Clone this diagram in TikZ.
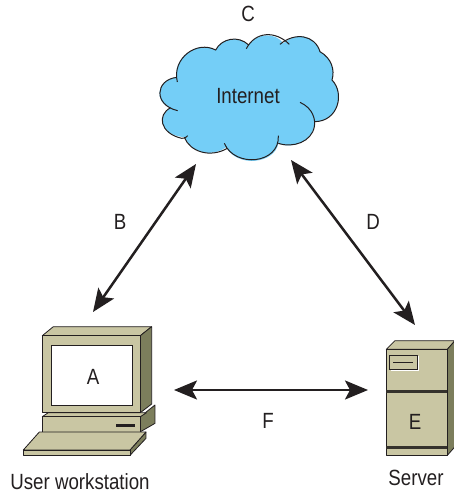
\documentclass[tikz,border=0pt]{standalone}
\usepackage{fontspec}
\setmainfont[FakeStretch=0.85]{Liberation Sans}
\usetikzlibrary{arrows.meta}
\definecolor{beige}{HTML}{C9C6A3}
\definecolor{shade}{HTML}{7C7E5C}
\definecolor{sky}{HTML}{74CEF7}
\definecolor{ink}{HTML}{231F20}
\tikzset{
  lbl/.style={text=ink,font=\fontsize{22}{24}\selectfont,inner sep=0pt},
  link/.style={ink,line width=2.5pt,{Stealth[length=23pt,width=19pt,inset=5pt]}-{Stealth[length=23pt,width=19pt,inset=5pt]}},
  box/.style={draw=ink,line width=0.8pt,line join=round,fill=beige},
  dark/.style={draw=ink,line width=0.8pt,line join=round,fill=shade},
  cloudline/.style={draw=ink,line width=1pt}
}
\begin{document}
\begin{tikzpicture}[x=1pt,y=-1pt]
\useasboundingbox (0,0) rectangle (454,493);
\fill[white] (0,0) rectangle (454,493);
% cloud
\begin{scope}[shift={(150,20)},scale=1/3]
\fill[sky] (80,172) .. controls (70,115) and (140,60) .. (197,90)
  .. controls (215,55) and (265,45) .. (296,75)
  .. controls (320,40) and (375,35) .. (400,70)
  .. controls (440,35) and (495,45) .. (510,95)
  .. controls (545,115) and (555,150) .. (546,180)
  .. controls (585,220) and (565,305) .. (493,305)
  .. controls (495,360) and (430,390) .. (385,370)
  .. controls (375,430) and (265,445) .. (228,382)
  .. controls (180,415) and (120,395) .. (105,352)
  .. controls (30,345) and (20,290) .. (62,263)
  .. controls (10,245) and (20,180) .. (80,172) -- cycle;
\draw[cloudline] (82,186) .. controls (65,115) and (140,60) .. (197,90)
  .. controls (215,55) and (265,45) .. (296,75);
\draw[cloudline] (289,86) .. controls (315,35) and (375,30) .. (418,73);
\draw[cloudline] (390,73) .. controls (435,35) and (495,45) .. (510,95)
  .. controls (545,115) and (555,150) .. (546,180)
  .. controls (585,220) and (565,305) .. (493,305);
\draw[cloudline] (450,247) .. controls (490,265) and (497,300) .. (493,320)
  .. controls (485,365) and (430,385) .. (385,370);
\draw[cloudline] (385,347) .. controls (390,432) and (255,445) .. (223,370);
\draw[cloudline] (232,385) .. controls (180,415) and (120,395) .. (103,352);
\draw[cloudline] (113,347) .. controls (108,353) and (104,356) .. (95,355)
  .. controls (30,340) and (20,285) .. (62,263);
\draw[cloudline] (83,272) .. controls (10,255) and (15,180) .. (80,172);
\end{scope}
% workstation
\begin{scope}[shift={(0,310)},scale=1/3]
\draw[box] (127,77) -- (160,50) -- (455,50) -- (421,77) -- cycle;
\draw[dark] (421,77) -- (455,50) -- (455,282) -- (421,308) -- cycle;
\draw[dark] (421,320) -- (465,285) -- (465,340) -- (420,366) -- cycle;
\draw[box] (127,320) -- (145,308) -- (440,308) -- (421,320) -- cycle;
\draw[box] (127,320) rectangle (421,366);
\draw[box] (127,77) rectangle (421,308);
\draw[draw=ink,line width=0.8pt,fill=white] (153,107) rectangle (397,286);
\fill[ink] (348,342) rectangle (405,350);
\draw[dark] (390,420) -- (438,366) -- (438,385) -- (390,436) -- cycle;
\draw[box] (70,420) -- (118,366) -- (438,366) -- (390,420) -- cycle;
\draw[box] (70,420) rectangle (390,436);
\end{scope}
% server
\begin{scope}[shift={(360,320)},scale=1/3]
\draw[box] (79,88) -- (105,62) -- (285,62) -- (262,88) -- cycle;
\draw[dark] (262,88) -- (285,62) -- (285,380) -- (262,406) -- cycle;
\draw[box] (79,88) rectangle (262,406);
\draw[white,line width=0.8pt] (92,151) -- (176,151) -- (176,108);
\draw[draw=ink,line width=0.9pt] (89,106) rectangle (173,148);
\draw[ink,line width=1pt] (100,126) -- (160,126);
\fill[ink!80!shade] (79,211) rectangle (262,218);
\fill[ink!80!shade] (79,377) rectangle (262,386);
\end{scope}
% connector ends
\coordinate (netL) at (196,164);
\coordinate (pcTop) at (93,312);
\coordinate (netR) at (291,160);
\coordinate (srvTop) at (415,325);
\coordinate (pcR) at (174,390);
\coordinate (srvL) at (368,390);
\draw[link] (netL) -- (pcTop);
\draw[link] (netR) -- (srvTop);
\draw[link] (pcR) -- (srvL);
% labels
\node[lbl] (c) at (248,14) {C};
\node[lbl] (net) at (248,96) {Internet};
\node[lbl] (b) at (120,222) {B};
\node[lbl] (d) at (373,222) {D};
\node[lbl] (a) at (93,377) {A};
\node[lbl] (e) at (415,422) {E};
\node[lbl] (f) at (268,421) {F};
\node[lbl] (uw) at (80,482) {User workstation};
\node[lbl] (srv) at (416,478) {Server};
\end{tikzpicture}
\end{document}
